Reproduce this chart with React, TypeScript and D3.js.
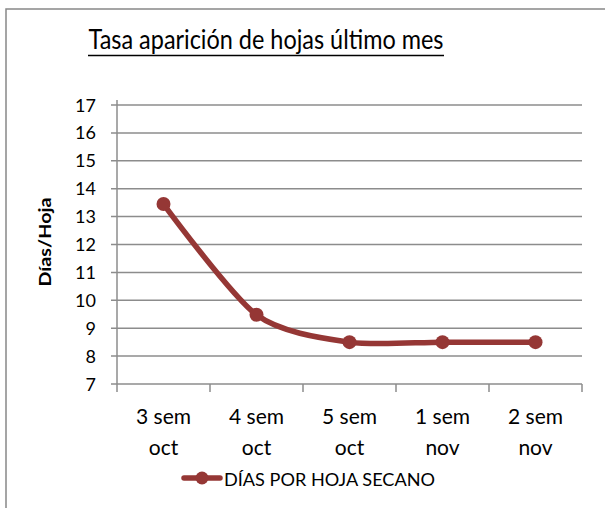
import React from "react";
import * as d3 from "d3";

const categories: string[][] = [
  ["3 sem", "oct"],
  ["4 sem", "oct"],
  ["5 sem", "oct"],
  ["1 sem", "nov"],
  ["2 sem", "nov"],
];
const values: number[] = [13.45, 9.48, 8.5, 8.5, 8.5];
const yTicks: number[] = [7, 8, 9, 10, 11, 12, 13, 14, 15, 16, 17];
const title = "Tasa aparición de hojas último mes";
const yLabel = "Días/Hoja";
const seriesName = "DÍAS POR HOJA SECANO";

const W = 605;
const H = 508;
const left = 117;
const right = 582;
const top = 105;
const bottom = 384;
const lineColor = "#953735";
const gridColor = "#8c8c8c";
const font = "Lato, 'Open Sans', sans-serif";

export default function App() {
  const x = d3
    .scaleBand<number>()
    .domain(categories.map((_, i) => i))
    .range([left, right]);
  const y = d3.scaleLinear().domain([7, 17]).range([bottom, top]);
  const cx = (i: number) => (x(i) as number) + x.bandwidth() / 2;
  const line = d3
    .line<number>()
    .x((_, i) => cx(i))
    .y((d) => y(d))
    .curve(d3.curveCardinal.tension(0.2));
  const boundaries = d3.range(categories.length + 1).map((i) =>
    i < categories.length ? (x(i) as number) : right
  );
  return (
    <div style={{ position: "absolute", left: 0, top: 0 }}>
      <svg width={W} height={H} style={{ display: "block" }}>
        <rect x={0} y={0} width={W} height={H} fill="#fff" />
        <rect x={6} y={9} width={W} height={H + 10} fill="none" stroke="#888" strokeWidth={1.5} />
        <text
          x={266}
          y={49}
          textAnchor="middle"
          fontFamily={font}
          fontSize={26}
          fill="#000"
          textLength={355}
          lengthAdjust="spacingAndGlyphs"
        >
          {title}
        </text>
        <line x1={88} x2={444} y1={55.5} y2={55.5} stroke="#000" strokeWidth={1.3} />
        {yTicks.map((t) => (
          <g key={t}>
            <line x1={111} x2={right} y1={y(t)} y2={y(t)} stroke={gridColor} strokeWidth={1.5} />
            <text
              x={96}
              y={y(t) + 6.5}
              textAnchor="end"
              fontFamily={font}
              fontSize={18}
              fill="#000"
            >
              {t}
            </text>
          </g>
        ))}
        <line x1={left} x2={left} y1={top - 5} y2={bottom} stroke={gridColor} strokeWidth={1.5} />
        {boundaries.map((bx, i) => (
          <line key={i} x1={bx} x2={bx} y1={bottom} y2={bottom + 8} stroke={gridColor} strokeWidth={1.5} />
        ))}
        {categories.map((c, i) => (
          <text key={i} textAnchor="middle" fontFamily={font} fontSize={21} fill="#000">
            <tspan x={cx(i)} y={424}>
              {c[0]}
            </tspan>
            <tspan x={cx(i)} y={455}>
              {c[1]}
            </tspan>
          </text>
        ))}
        <text
          transform={`translate(51,242) rotate(-90)`}
          textAnchor="middle"
          fontFamily={font}
          fontSize={17}
          fontWeight="bold"
          fill="#000"
          textLength={89}
          lengthAdjust="spacingAndGlyphs"
        >
          {yLabel}
        </text>
        <path d={line(values) || ""} fill="none" stroke={lineColor} strokeWidth={5.5} strokeLinecap="round" />
        {values.map((v, i) => (
          <circle key={i} cx={cx(i)} cy={y(v)} r={7} fill={lineColor} />
        ))}
        <line x1={184} x2={220} y1={478} y2={478} stroke={lineColor} strokeWidth={5.5} strokeLinecap="round" />
        <circle cx={202} cy={478} r={6.5} fill={lineColor} />
        <text
          x={224}
          y={486}
          fontFamily={font}
          fontSize={17}
          fill="#000"
          textLength={211}
          lengthAdjust="spacingAndGlyphs"
        >
          {seriesName}
        </text>
      </svg>
    </div>
  );
}
